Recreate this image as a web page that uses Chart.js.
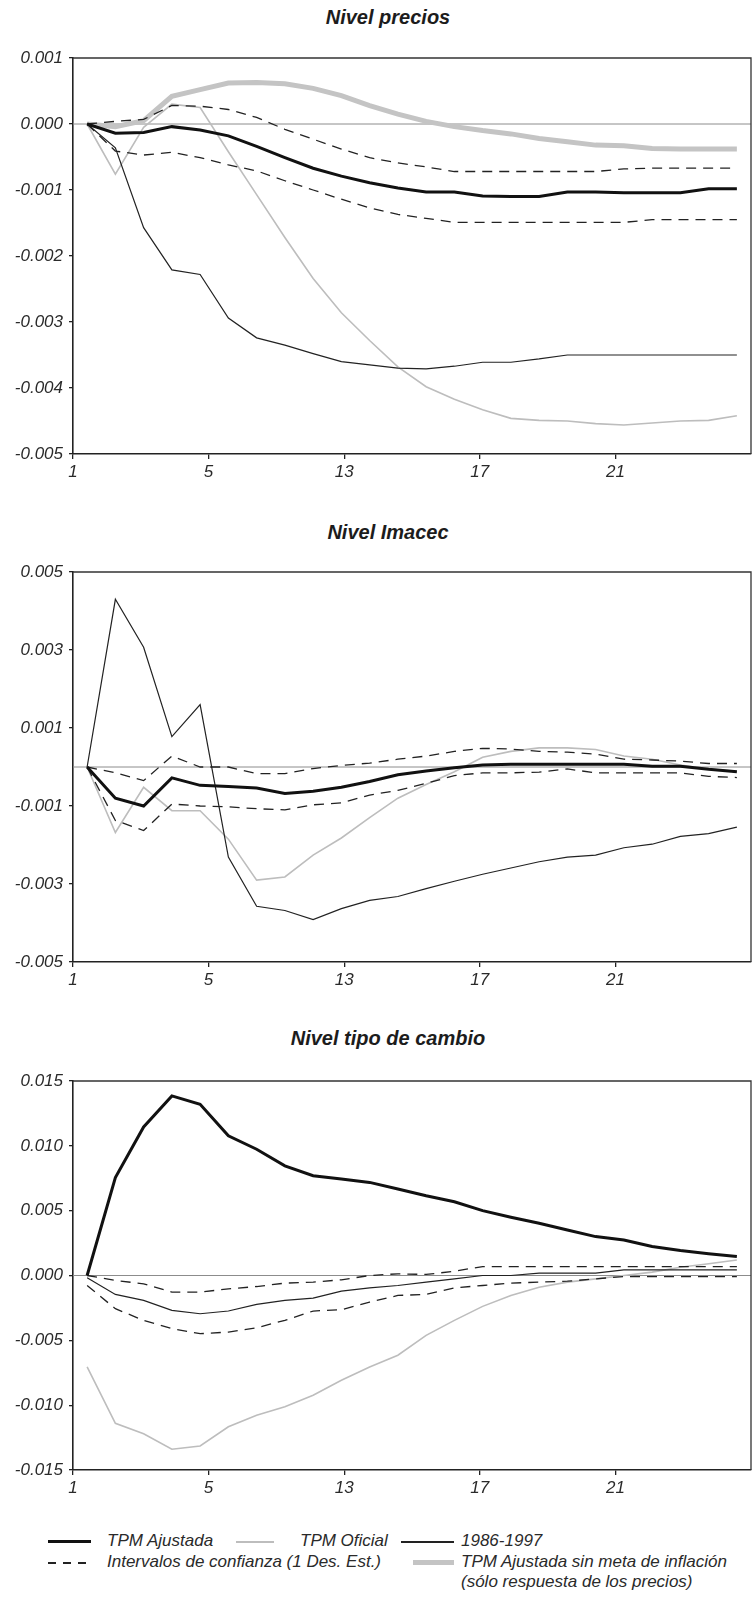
<!DOCTYPE html>
<html>
<head>
<meta charset="utf-8">
<script src="https://cdn.jsdelivr.net/npm/chart.js@4/dist/chart.umd.min.js"></script>
<style>
  html, body { margin: 0; padding: 0; background: #fff; }
  body { width: 754px; height: 1600px; position: relative; overflow: hidden;
         font-family: 'Liberation Sans', Arial, sans-serif; color: #222; }
  .panel { position: absolute; left: 0; width: 754px; }
  .title { position: absolute; left: 288px; width: 200px; text-align: center;
           font: italic bold 20px 'Liberation Sans', Arial, sans-serif; color: #1c1c1c;
           line-height: 24px; white-space: nowrap; }
  .leg { position: absolute; font: italic 17px 'Liberation Sans', Arial, sans-serif;
         color: #2a2a2a; line-height: 20px; white-space: nowrap; }
  .sample { position: absolute; }
</style>
</head>
<body>

<div class="title" style="top:5px">Nivel precios</div>
<div class="panel" style="top:0;height:500px"><canvas id="precChart"></canvas></div>

<div class="title" style="top:520px">Nivel Imacec</div>
<div class="panel" style="top:520px;height:488px"><canvas id="imaChart"></canvas></div>

<div class="title" style="top:1026px">Nivel tipo de cambio</div>
<div class="panel" style="top:1030px;height:486px"><canvas id="tcChart"></canvas></div>

<!-- legend -->
<div class="sample" style="left:48px;top:1540px;width:43px;height:3px;background:#111"></div>
<div class="leg" style="left:107px;top:1531px">TPM Ajustada</div>
<div class="sample" style="left:236px;top:1541px;width:38px;height:1.5px;background:#bdbdbd"></div>
<div class="leg" style="left:300px;top:1531px">TPM Oficial</div>
<div class="sample" style="left:401px;top:1541px;width:53px;height:1.5px;background:#222"></div>
<div class="leg" style="left:461px;top:1531px">1986-1997</div>

<div class="sample" style="left:48px;top:1562px;width:43px;height:1.5px;background:repeating-linear-gradient(to right,#222 0 8px,transparent 8px 15px)"></div>
<div class="leg" style="left:107px;top:1552px">Intervalos de confianza (1 Des. Est.)</div>
<div class="sample" style="left:413px;top:1560px;width:41px;height:5px;background:#c4c4c4"></div>
<div class="leg" style="left:461px;top:1552px">TPM Ajustada sin meta de inflación</div>
<div class="leg" style="left:461px;top:1572px">(sólo respuesta de los precios)</div>

<script>
// periods (quarters) on the horizontal axis
const periods = [1, 2, 3, 4, 5, 6, 7, 8, 9, 10, 11, 12, 13, 14, 15, 16, 17, 18, 19, 20, 21, 22, 23, 24];
const xTickAt     = [0.5, 5.3, 10.1, 14.9, 19.7];
const xTickLabels = ['1', '5', '13', '17', '21'];

// ── Nivel precios ──
const precTicks   = [-0.005, -0.004, -0.003, -0.002, -0.001, 0, 0.001];
const precAjustada = [0, -0.00014, -0.00013, -0.00004, -0.00009, -0.00018, -0.00034, -0.00051, -0.00067, -0.00079, -0.00089, -0.00097, -0.00103, -0.00103, -0.00109, -0.0011, -0.0011, -0.00103, -0.00103, -0.00104, -0.00104, -0.00104, -0.00098, -0.00098];
const precOficial  = [0, -0.00076, -0.00005, 0.0003, 0.00025, -0.00042, -0.00107, -0.00172, -0.00234, -0.00286, -0.00328, -0.00368, -0.00398, -0.00417, -0.00433, -0.00446, -0.00449, -0.0045, -0.00454, -0.00456, -0.00453, -0.0045, -0.00449, -0.00442];
const prec8697     = [0, -0.00036, -0.00157, -0.00221, -0.00228, -0.00294, -0.00324, -0.00335, -0.00348, -0.0036, -0.00365, -0.0037, -0.00371, -0.00367, -0.00361, -0.00361, -0.00356, -0.0035, -0.0035, -0.0035, -0.0035, -0.0035, -0.0035, -0.0035];
const precSup      = [0, 0.00004, 0.00007, 0.00028, 0.00027, 0.00022, 0.0001, -0.00008, -0.00023, -0.00038, -0.00051, -0.00059, -0.00065, -0.00072, -0.00072, -0.00072, -0.00072, -0.00072, -0.00072, -0.00068, -0.00067, -0.00067, -0.00067, -0.00067];
const precInf      = [0, -0.00041, -0.00047, -0.00043, -0.00051, -0.00062, -0.00071, -0.00086, -0.001, -0.00114, -0.00127, -0.00137, -0.00143, -0.00149, -0.00149, -0.00149, -0.00149, -0.00149, -0.00149, -0.00149, -0.00145, -0.00145, -0.00145, -0.00145];
const precSinMeta  = [0, -0.00004, 0.00005, 0.00042, 0.00052, 0.00062, 0.00063, 0.00061, 0.00054, 0.00043, 0.00028, 0.00015, 0.00004, -0.00004, -0.0001, -0.00015, -0.00022, -0.00027, -0.00032, -0.00033, -0.00037, -0.00038, -0.00038, -0.00038];

// ── Nivel Imacec ──
const imaTicks    = [-0.005, -0.003, -0.001, 0.001, 0.003, 0.005];
const imaAjustada = [0, -0.0008, -0.001, -0.00028, -0.00047, -0.0005, -0.00054, -0.00068, -0.00062, -0.00052, -0.00037, -0.0002, -0.0001, -0.00002, 0.00005, 0.00007, 0.00007, 0.00007, 0.00007, 0.00007, 0.00002, 0.00002, -0.00006, -0.00012];
const imaOficial  = [0, -0.00168, -0.00052, -0.00112, -0.00112, -0.00185, -0.0029, -0.00282, -0.00226, -0.00182, -0.0013, -0.0008, -0.00045, -0.00012, 0.00025, 0.0004, 0.00049, 0.00049, 0.00045, 0.00028, 0.0002, 0.00005, -0.00005, -0.00011];
const ima8697     = [0, 0.0043, 0.00307, 0.00078, 0.0016, -0.00231, -0.00357, -0.00368, -0.00391, -0.00363, -0.00342, -0.00332, -0.00312, -0.00293, -0.00275, -0.00259, -0.00243, -0.00231, -0.00226, -0.00207, -0.00198, -0.00178, -0.00171, -0.00154];
const imaSup      = [0, -0.00015, -0.00035, 0.00028, 0, 0, -0.00017, -0.00017, -0.00004, 0.00004, 0.0001, 0.0002, 0.00028, 0.0004, 0.00048, 0.00046, 0.0004, 0.00038, 0.00033, 0.0002, 0.00018, 0.00015, 0.00009, 0.00009];
const imaInf      = [0, -0.00137, -0.00163, -0.00095, -0.001, -0.00102, -0.00107, -0.0011, -0.00097, -0.00092, -0.00072, -0.0006, -0.00042, -0.00022, -0.00015, -0.00015, -0.00013, -0.00005, -0.00015, -0.00015, -0.00015, -0.00015, -0.00024, -0.00027];

// ── Nivel tipo de cambio ──
const tcTicks    = [-0.015, -0.01, -0.005, 0, 0.005, 0.01, 0.015];
const tcAjustada = [0, 0.00756, 0.01146, 0.01385, 0.0132, 0.01077, 0.00974, 0.00846, 0.00769, 0.00744, 0.00718, 0.00667, 0.00615, 0.00569, 0.005, 0.00449, 0.00403, 0.00351, 0.003, 0.00274, 0.00223, 0.00192, 0.00167, 0.00146];
const tcOficial  = [-0.00705, -0.0114, -0.0122, -0.0134, -0.01315, -0.01167, -0.01077, -0.01013, -0.00923, -0.00808, -0.00705, -0.00615, -0.00462, -0.00346, -0.00238, -0.00154, -0.0009, -0.00051, -0.00026, 0, 0.00026, 0.00064, 0.0009, 0.0012];
const tc8697     = [-0.00018, -0.00146, -0.00192, -0.00269, -0.00295, -0.00274, -0.00223, -0.00192, -0.00174, -0.00121, -0.00095, -0.00077, -0.00051, -0.00026, 0, 0, 0.00018, 0.00018, 0.00018, 0.00044, 0.00044, 0.00044, 0.00044, 0.00044];
const tcSup      = [0, -0.00038, -0.00064, -0.00128, -0.00128, -0.00103, -0.00085, -0.00059, -0.00051, -0.00033, 0, 0.00013, 0.00008, 0.00033, 0.00069, 0.00069, 0.00069, 0.00069, 0.00069, 0.00069, 0.00069, 0.00069, 0.00069, 0.00069];
const tcInf      = [-0.00077, -0.00256, -0.00346, -0.0041, -0.00449, -0.00436, -0.00403, -0.00346, -0.00274, -0.00264, -0.00205, -0.00154, -0.00146, -0.00095, -0.00077, -0.00059, -0.00051, -0.00044, -0.00026, -0.00008, -0.00008, -0.00008, -0.00008, -0.00008];

const FONT = "'Liberation Sans', Arial, sans-serif";
const AXIS = '#222';

// zero line under the series, box lines on top/right
const framePlugin = {
  id: 'frame',
  beforeDatasetsDraw(chart) {
    const { ctx, chartArea: a, scales: { y } } = chart;
    const y0 = y.getPixelForValue(0);
    ctx.save();
    ctx.strokeStyle = '#8c8c8c';
    ctx.lineWidth = 1;
    ctx.beginPath(); ctx.moveTo(a.left, y0); ctx.lineTo(a.right, y0); ctx.stroke();
    ctx.restore();
  },
  afterDraw(chart) {
    const { ctx, chartArea: a } = chart;
    ctx.save();
    ctx.strokeStyle = '#333';
    ctx.lineWidth = 1.3;
    ctx.beginPath();
    ctx.moveTo(a.left, a.top); ctx.lineTo(a.right, a.top); ctx.lineTo(a.right, a.bottom);
    ctx.stroke();
    ctx.restore();
  }
};

const line = (data, color, width, dash) => ({
  data, borderColor: color, borderWidth: width, borderDash: dash || [],
  pointRadius: 0, tension: 0, fill: false
});

function makeChart(id, padTop, yTicks, series) {
  const tickFont = { family: FONT, size: 17, style: 'italic' };
  return new Chart(document.getElementById(id), {
    type: 'line',
    data: { labels: periods, datasets: series },
    options: {
      responsive: true, maintainAspectRatio: false, animation: false,
      layout: { padding: { top: padTop, right: 3, left: 0, bottom: 0 } },
      plugins: { legend: { display: false }, tooltip: { enabled: false } },
      scales: {
        x: {
          type: 'linear', min: 0.5, max: 24.5,
          afterBuildTicks: s => { s.ticks = xTickAt.map(v => ({ value: v })); },
          afterFit: s => { s.height = 46; },
          ticks: { callback: (v, i) => xTickLabels[i], autoSkip: false, maxRotation: 0,
                   font: tickFont, color: '#2a2a2a', padding: 3 },
          grid: { drawOnChartArea: false, drawTicks: true, tickLength: 5, color: AXIS, lineWidth: 1.3 },
          border: { display: true, color: AXIS, width: 1.6 }
        },
        y: {
          min: yTicks[0], max: yTicks[yTicks.length - 1],
          afterBuildTicks: s => { s.ticks = yTicks.map(v => ({ value: v })); },
          afterFit: s => { s.width = 73; },
          ticks: { callback: v => v.toFixed(3), font: tickFont, color: '#2a2a2a', padding: 6 },
          grid: { drawOnChartArea: false, drawTicks: true, tickLength: 4, color: AXIS, lineWidth: 1.3 },
          border: { display: true, color: AXIS, width: 1.6 }
        }
      }
    },
    plugins: [framePlugin]
  });
}

// dataset 0 is painted last, so the main response goes first
makeChart('precChart', 58, precTicks, [
  line(precAjustada, '#111', 3),
  line(precSup, '#222', 1.3, [10, 7]),
  line(precInf, '#222', 1.3, [10, 7]),
  line(prec8697, '#222', 1.2),
  line(precOficial, '#bdbdbd', 1.6),
  line(precSinMeta, '#c4c4c4', 5)
]);

makeChart('imaChart', 52, imaTicks, [
  line(imaAjustada, '#111', 3),
  line(imaSup, '#222', 1.3, [10, 7]),
  line(imaInf, '#222', 1.3, [10, 7]),
  line(ima8697, '#222', 1.2),
  line(imaOficial, '#bdbdbd', 1.6)
]);

makeChart('tcChart', 51, tcTicks, [
  line(tcAjustada, '#111', 3),
  line(tcSup, '#222', 1.3, [10, 7]),
  line(tcInf, '#222', 1.3, [10, 7]),
  line(tc8697, '#222', 1.2),
  line(tcOficial, '#bdbdbd', 1.6)
]);
</script>
</body>
</html>
